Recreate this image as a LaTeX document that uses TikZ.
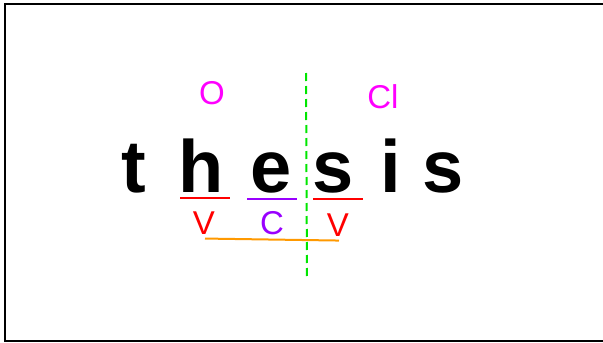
\documentclass[tikz,border=0pt]{standalone}
\usepackage{fontspec}
\setmainfont{Liberation Sans}
\usetikzlibrary{positioning,calc}

\definecolor{labmag}{RGB}{255,0,255}
\definecolor{labred}{RGB}{255,0,0}
\definecolor{labvio}{RGB}{153,0,255}
\definecolor{laborg}{RGB}{255,153,0}
\definecolor{labgrn}{RGB}{0,230,0}

\begin{document}
\begin{tikzpicture}[x=1pt, y=-1pt,
  letter/.style={inner sep=0pt, anchor=base, font=\fontsize{74}{78}\selectfont\bfseries},
  tag/.style={inner sep=0pt, font=\fontsize{33}{35}\selectfont},
  uline/.style={line width=2pt}]
\useasboundingbox (0,0) rectangle (603,343);
\draw[line width=2.5pt] (610,4) -- (5,4) -- (5,341) -- (610,341);

% the word
\node[letter] (lt) at (134,192) {t};
\node[letter] (lh) at (201,192) {h};
\node[letter] (le) at (271,192) {e};
\node[letter] (ls) at (333,192) {s};
\node[letter] (li) at (391,192) {i};
\node[letter] (ls2) at (443,192) {s};

% underlines
\draw[uline, labred] (180,198) -- (230,198);
\draw[uline, labvio] (247,199) -- (297,199);
\draw[uline, labred] (313,199) -- (363,199);

% labels
\node[tag, labmag] (onset) at (212,93) {O};
\node[tag, labmag] (cl) at (383,97) {Cl};
\node[tag, labred] (vl) at (204,223) {V};
\node[tag, labvio] (cm) at (272,223) {C};
\node[tag, labred] (vr) at (338,225) {V};

\draw[line width=2pt, laborg] ($(vl.south)+(1,4)$) -- ($(vr.south)+(1,4)$);

% boundary
\coordinate (btop) at (306,73);
\coordinate (bbot) at (307,277);
\draw[labgrn, line width=2pt, dash pattern=on 8pt off 5pt] (btop) -- (bbot);
\end{tikzpicture}
\end{document}
